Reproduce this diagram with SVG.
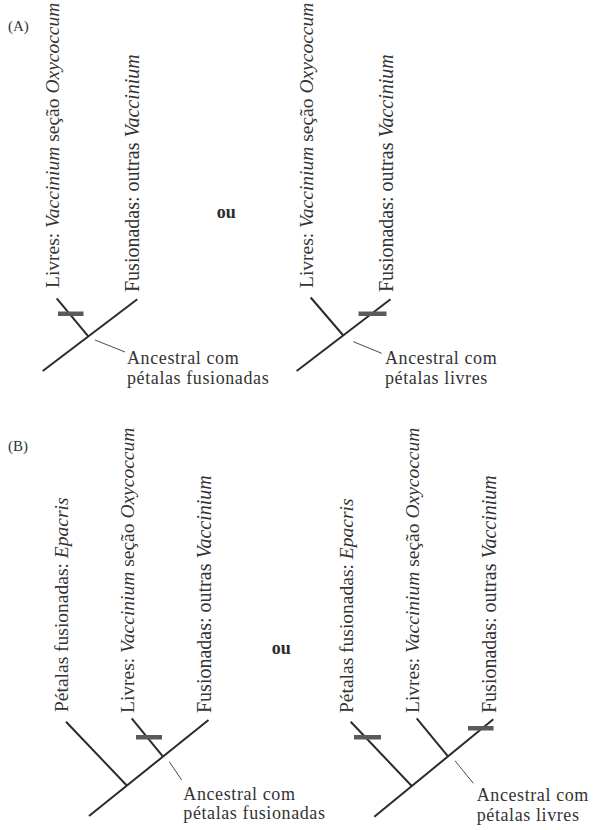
<svg xmlns="http://www.w3.org/2000/svg" width="593" height="830" viewBox="0 0 593 830">
  <style>
    .br { stroke: #2b2b2b; stroke-width: 2; fill: none; }
    .lead { stroke: #4a4a4a; stroke-width: 1; fill: none; }
    .bar { fill: #5a5a5a; }
    .lbl { font-family: "Liberation Serif", "Times New Roman", serif; font-size: 19.5px; fill: #333; }
    .lbl.wide { font-size: 20px; }
    .anc { font-family: "Liberation Serif", "Times New Roman", serif; font-size: 18px; letter-spacing: 0.6px; fill: #333; }
    .it { font-style: italic; }
    .tag { font-family: "Liberation Serif", serif; font-size: 15px; fill: #333; }
    .ou { font-family: "Liberation Serif", serif; font-size: 18px; font-weight: bold; fill: #2b2b2b; }
  </style>
  <rect width="593" height="830" fill="#ffffff"/>

  <!-- panel tags and "ou" separators -->
  <g id="tag-a"><text class="tag" x="8" y="31">(A)</text></g>
  <g id="tag-b"><text class="tag" x="8" y="451">(B)</text></g>
  <g id="ou-a"><text class="ou" x="216.7" y="218.3">ou</text></g>
  <g id="ou-b"><text class="ou" x="271.7" y="654">ou</text></g>

  <!-- branches and leader lines -->
  <g id="connectors">
    <!-- A, left tree -->
    <path class="br" d="M42.7,371 L137.3,299.3"/>
    <path class="br" d="M56.7,298.3 L88.3,336.4"/>
    <path class="lead" d="M95,340 L125,352"/>
    <!-- A, right tree -->
    <path class="br" d="M296.7,371 L390.5,299.3"/>
    <path class="br" d="M310.7,297.5 L343.3,335.5"/>
    <path class="lead" d="M353.3,341.7 L381.7,353.3"/>
    <!-- B, left tree -->
    <path class="br" d="M89,816 L208.5,720"/>
    <path class="br" d="M66,721.7 L127,785.7"/>
    <path class="br" d="M131.7,718.3 L163,756.6"/>
    <path class="lead" d="M169.3,761.7 L181.7,780"/>
    <!-- B, right tree -->
    <path class="br" d="M374.3,816.7 L493.3,719.3"/>
    <path class="br" d="M350.7,721.7 L411.7,786"/>
    <path class="br" d="M416.7,718.3 L448,756.4"/>
    <path class="lead" d="M455,760.7 L473.3,783.3"/>
  </g>

  <!-- character-change bars across branches -->
  <g id="bars">
    <rect class="bar" x="58" y="311.5" width="25.5" height="4.5"/>
    <rect class="bar" x="358.5" y="311.5" width="28" height="4.5"/>
    <rect class="bar" x="136" y="735" width="26" height="4.5"/>
    <rect class="bar" x="354" y="735" width="27" height="4.5"/>
    <rect class="bar" x="468" y="726" width="25.5" height="4.5"/>
  </g>

  <!-- A, left tree labels -->
  <g id="a1-livres"><text class="lbl" transform="translate(58.7,288) rotate(-90)">Livres: <tspan class="it">Vaccinium</tspan> seção <tspan class="it">Oxycoccum</tspan></text></g>
  <g id="a1-fusionadas"><text class="lbl wide" transform="translate(139.3,292) rotate(-90)">Fusionadas: outras <tspan class="it">Vaccinium</tspan></text></g>
  <g id="a1-ancestral"><text class="anc" x="127" y="364">Ancestral com</text><text class="anc" x="127" y="383.5">pétalas fusionadas</text></g>

  <!-- A, right tree labels -->
  <g id="a2-livres"><text class="lbl" transform="translate(312.7,288) rotate(-90)">Livres: <tspan class="it">Vaccinium</tspan> seção <tspan class="it">Oxycoccum</tspan></text></g>
  <g id="a2-fusionadas"><text class="lbl wide" transform="translate(392.5,292) rotate(-90)">Fusionadas: outras <tspan class="it">Vaccinium</tspan></text></g>
  <g id="a2-ancestral"><text class="anc" x="385" y="364">Ancestral com</text><text class="anc" x="385" y="383.5">pétalas livres</text></g>

  <!-- B, left tree labels -->
  <g id="b1-epacris"><text class="lbl" transform="translate(68,712) rotate(-90)">Pétalas fusionadas: <tspan class="it">Epacris</tspan></text></g>
  <g id="b1-livres"><text class="lbl" transform="translate(134,713) rotate(-90)">Livres: <tspan class="it">Vaccinium</tspan> seção <tspan class="it">Oxycoccum</tspan></text></g>
  <g id="b1-fusionadas"><text class="lbl wide" transform="translate(210.5,713) rotate(-90)">Fusionadas: outras <tspan class="it">Vaccinium</tspan></text></g>
  <g id="b1-ancestral"><text class="anc" x="183.3" y="799.5">Ancestral com</text><text class="anc" x="183.3" y="819">pétalas fusionadas</text></g>

  <!-- B, right tree labels -->
  <g id="b2-epacris"><text class="lbl" transform="translate(353,713) rotate(-90)">Pétalas fusionadas: <tspan class="it">Epacris</tspan></text></g>
  <g id="b2-livres"><text class="lbl" transform="translate(419,713) rotate(-90)">Livres: <tspan class="it">Vaccinium</tspan> seção <tspan class="it">Oxycoccum</tspan></text></g>
  <g id="b2-fusionadas"><text class="lbl wide" transform="translate(495.5,713) rotate(-90)">Fusionadas: outras <tspan class="it">Vaccinium</tspan></text></g>
  <g id="b2-ancestral"><text class="anc" x="476.7" y="801">Ancestral com</text><text class="anc" x="476.7" y="820.5">pétalas livres</text></g>
</svg>
